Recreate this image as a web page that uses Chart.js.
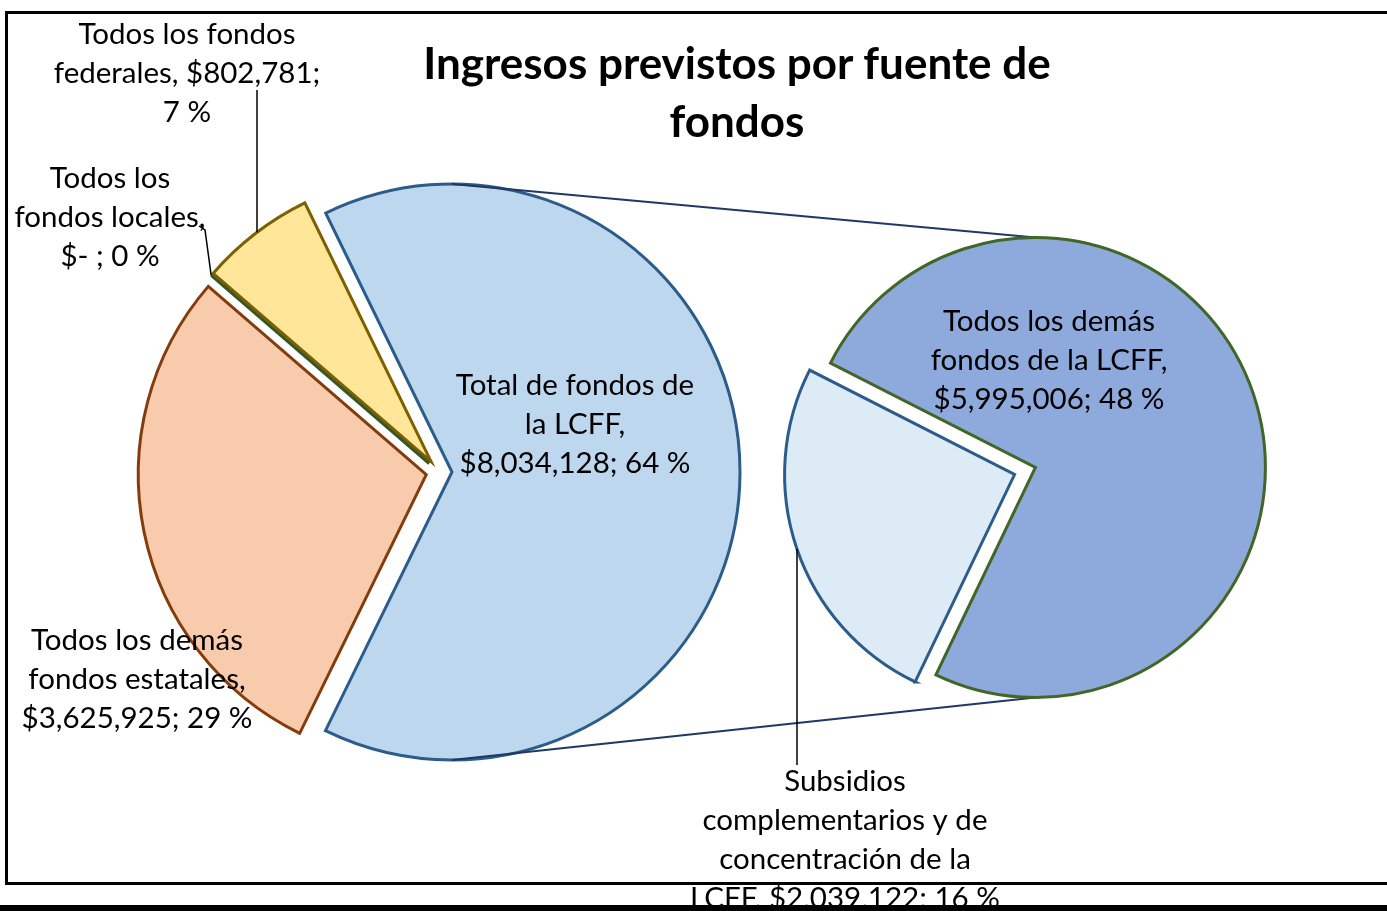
<!DOCTYPE html>
<html>
<head>
<meta charset="utf-8">
<script src="https://cdn.jsdelivr.net/npm/chart.js@4.4.1/dist/chart.umd.min.js"></script>
<style>
  body { margin: 0; background: #fff; }
  #wrap { position: relative; width: 1387px; height: 911px; overflow: hidden; font-family: Lato, 'Noto Sans', sans-serif; }
  #wrap canvas { position: absolute; left: 0; top: 0; }
  .frame { position: absolute; left: 5px; top: 11px; width: 1400px; height: 874px; border: 3px solid #000; border-right: none; box-sizing: border-box; }
  .title { position: absolute; left: 337px; width: 800px; top: 33px; text-align: center; font-weight: bold; font-size: 44px; line-height: 58px; color: #000; z-index: 3; }
  .bar { position: absolute; left: 0; top: 905px; width: 1387px; height: 6px; background: #000; z-index: 3; }
</style>
</head>
<body>
<div id="wrap">
  <div class="frame"></div>
  <canvas id="mainPie" width="1387" height="911"></canvas>
  <canvas id="lcffPie" width="1387" height="911"></canvas>
  <div class="title">Ingresos previstos por fuente de<br>fondos</div>
  <div class="bar"></div>
</div>
<script>
// fuentes de fondos (gráfico principal)
const sources = ['Total de fondos de la LCFF', 'Todos los demás fondos estatales', 'Todos los fondos locales', 'Todos los fondos federales'];
const sourceAmounts = [8034128, 3625925, 0, 802781];
const sourcePct = [64, 29, 0, 7];

// desglose de la LCFF (gráfico secundario)
const lcffParts = ['Todos los demás fondos de la LCFF', 'Subsidios complementarios y de concentración de la LCFF'];
const lcffAmounts = [5995006, 2039122];
const lcffPct = [48, 16];

const LINE = 39;
const FONT = '29.5px Lato, "Noto Sans", sans-serif';

const money = (v) => v === 0 ? '$- ' : '$' + v.toLocaleString('en-US');
const labelText = (name, v, p) => `${name}, ${money(v)}; ${p} %`;

// centro de un sector desplazado hacia afuera
function centerOf(chart, arc, d) {
  const a = chart.chartArea;
  const mid = (arc.startAngle + arc.endAngle) / 2;
  return { x: (a.left + a.right) / 2 + Math.cos(mid) * d, y: (a.top + a.bottom) / 2 + Math.sin(mid) * d };
}

function explode(d) {
  return {
    id: 'explode',
    beforeDatasetsDraw(chart) {
      chart.getDatasetMeta(0).data.forEach((arc) => {
        const c = centerOf(chart, arc, d);
        arc.x = c.x; arc.y = c.y;
      });
    },
    afterDatasetsDraw(chart) {
      // sector con valor 0: solo una línea
      const ctx = chart.ctx;
      const ds = chart.data.datasets[0];
      chart.getDatasetMeta(0).data.forEach((arc, i) => {
        if (ds.data[i] !== 0) return;
        ctx.save();
        ctx.strokeStyle = ds.borderColor[i];
        ctx.lineWidth = 3;
        ctx.beginPath();
        ctx.moveTo(arc.x, arc.y);
        ctx.lineTo(arc.x + Math.cos(arc.startAngle) * arc.outerRadius, arc.y + Math.sin(arc.startAngle) * arc.outerRadius);
        ctx.stroke();
        ctx.restore();
      });
    },
  };
}

function wrap(ctx, text, max) {
  const words = text.split(' ');
  const lines = [];
  let cur = '';
  words.forEach((w) => {
    const t = cur ? cur + ' ' + w : w;
    if (cur && ctx.measureText(t).width > max) { lines.push(cur); cur = w; } else cur = t;
  });
  if (cur) lines.push(cur);
  return lines;
}

function labels(items, leaders) {
  return {
    id: 'sliceLabels',
    afterDatasetsDraw(chart) {
      const ctx = chart.ctx;
      const arcs = chart.getDatasetMeta(0).data;
      ctx.save();
      ctx.font = FONT;
      ctx.fillStyle = '#000';
      ctx.textAlign = 'center';
      ctx.textBaseline = 'middle';
      items.forEach((it) => {
        wrap(ctx, it.text, it.width).forEach((ln, i) => ctx.fillText(ln, it.x, it.y + i * LINE));
      });
      ctx.strokeStyle = '#000';
      ctx.lineWidth = 1.5;
      leaders(ctx, arcs);
      ctx.restore();
    },
  };
}

// punto del borde de un sector en una x dada
function edgeY(arc, x, sign) {
  const r = arc.outerRadius;
  return arc.y + sign * Math.sqrt(Math.max(r * r - (x - arc.x) * (x - arc.x), 0));
}

const mainChart = new Chart(document.getElementById('mainPie'), {
  type: 'pie',
  data: {
    labels: sources,
    datasets: [{
      data: sourceAmounts,
      backgroundColor: ['#BDD7EE', '#F8CBAD', '#C5E0B4', '#FFE699'],
      borderColor: ['#2B5C8A', '#843C0C', '#375623', '#7F6000'],
      borderWidth: 3,
      borderJoinStyle: 'miter',
      clip: false,
    }],
  },
  options: {
    responsive: false, animation: false, events: [],
    rotation: -26,
    radius: 288,
    layout: { padding: { left: 0, right: 509, top: 33, bottom: 0 } },
    plugins: { legend: { display: false }, tooltip: { enabled: false } },
  },
  plugins: [
    explode(13),
    labels([
      { text: labelText(sources[0], sourceAmounts[0], sourcePct[0]), x: 575, y: 385, width: 252 },
      { text: labelText(sources[1], sourceAmounts[1], sourcePct[1]), x: 137, y: 640, width: 240 },
      { text: labelText(sources[2], sourceAmounts[2], sourcePct[2]), x: 110, y: 178, width: 205 },
      { text: labelText(sources[3], sourceAmounts[3], sourcePct[3]), x: 187, y: 34, width: 278 },
    ], (ctx, arcs) => {
      // federales
      ctx.beginPath();
      ctx.moveTo(257, 90);
      ctx.lineTo(257, edgeY(arcs[3], 257, -1));
      ctx.stroke();
      // locales
      const a = arcs[2];
      ctx.beginPath();
      ctx.moveTo(199, 226);
      ctx.lineTo(205, 230);
      ctx.lineTo(a.x + Math.cos(a.startAngle) * a.outerRadius, a.y + Math.sin(a.startAngle) * a.outerRadius);
      ctx.stroke();
    }),
  ],
});

const connectors = {
  id: 'connectors',
  beforeDatasetsDraw(chart) {
    const src = mainChart.getDatasetMeta(0).data[0];
    const c = centerOf(mainChart, src, 13);
    const dst = chart.getDatasetMeta(0).data[0];
    const d = centerOf(chart, dst, 11);
    const ctx = chart.ctx;
    ctx.save();
    ctx.strokeStyle = '#1F3864';
    ctx.lineWidth = 2;
    ctx.beginPath();
    ctx.moveTo(c.x, c.y - src.outerRadius);
    ctx.lineTo(d.x, d.y - dst.outerRadius);
    ctx.moveTo(c.x, c.y + src.outerRadius);
    ctx.lineTo(d.x, d.y + dst.outerRadius);
    ctx.stroke();
    ctx.restore();
  },
};

new Chart(document.getElementById('lcffPie'), {
  type: 'pie',
  data: {
    labels: lcffParts,
    datasets: [{
      data: lcffAmounts,
      backgroundColor: ['#8EA9DB', '#DDEBF7'],
      borderColor: ['#426628', '#2B5C8A'],
      borderWidth: 3,
      borderJoinStyle: 'miter',
      clip: false,
    }],
  },
  options: {
    responsive: false, animation: false, events: [],
    rotation: -63,
    radius: 230,
    layout: { padding: { left: 663, right: 0, top: 31, bottom: 0 } },
    plugins: { legend: { display: false }, tooltip: { enabled: false } },
  },
  plugins: [
    connectors,
    explode(11),
    labels([
      { text: labelText(lcffParts[0], lcffAmounts[0], lcffPct[0]), x: 1049, y: 321, width: 250 },
      { text: labelText(lcffParts[1], lcffAmounts[1], lcffPct[1]), x: 845, y: 781, width: 315 },
    ], (ctx, arcs) => {
      ctx.beginPath();
      ctx.moveTo(797, 765);
      ctx.lineTo(797, edgeY(arcs[1], 797, 1));
      ctx.stroke();
    }),
  ],
});
</script>
</body>
</html>
